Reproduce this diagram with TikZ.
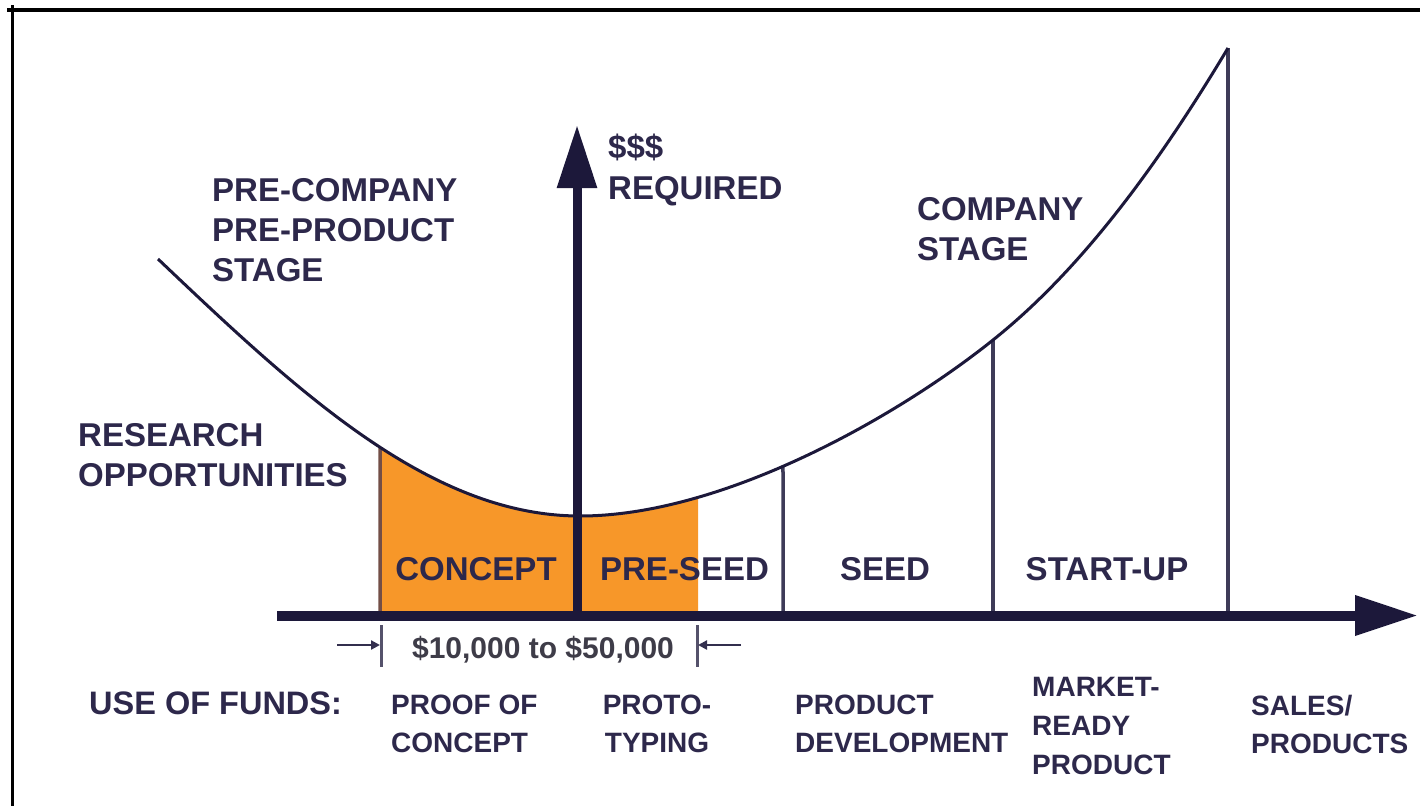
\documentclass[tikz,border=0pt]{standalone}
\usepackage{fontspec}
\setmainfont{Liberation Sans}
\usetikzlibrary{arrows.meta,intersections}
\definecolor{ink}{RGB}{28,24,58}
\definecolor{txt}{RGB}{45,40,75}
\definecolor{fillor}{RGB}{247,151,41}
\definecolor{edgebr}{RGB}{115,78,70}
\definecolor{dimtxt}{RGB}{62,60,72}
\begin{document}
\begin{tikzpicture}[x=1pt,y=-1pt,
  big/.style={font=\fontsize{33}{40}\selectfont\bfseries, text=txt, inner sep=0pt, align=left, anchor=west},
  stagelbl/.style={font=\fontsize{33}{40}\selectfont\bfseries, text=txt, inner sep=0pt, anchor=center},
  fundlbl/.style={font=\fontsize{28}{38}\selectfont\bfseries, text=txt, inner sep=0pt, align=left, anchor=west},
  curveline/.style={draw=ink, line width=3pt},
  divider/.style={draw=ink!85!white, line width=3.5pt},
  mainaxis/.style={draw=ink, line width=10pt, -{Triangle[length=63pt,width=38pt]}},
  vaxis/.style={draw=ink, line width=9pt, -{Triangle[length=63pt,width=38pt]}},
  dimline/.style={draw=ink!90!white, line width=2.5pt, -{Triangle[length=9pt,width=9pt]}},
  dimtick/.style={draw=ink!75!white, line width=3pt},
  frameline/.style={draw=black, line width=3.5pt}
]
\useasboundingbox (0,0) rectangle (1420,806);

% frame (top and left)
\coordinate (ftl) at (7,10);
\coordinate (ftr) at (1420,10);
\coordinate (fl1) at (12.3,5);
\coordinate (fl2) at (12.3,806);
\draw[frameline] (ftl) -- (ftr);
\draw[frameline] (fl1) -- (fl2);

% orange fill under the curve
\begin{scope}
  \clip (380,0) rectangle (698,615);
  \fill[fillor] (158,259) .. controls (298,392) and (430,516) .. (580,516)
     .. controls (720,516) and (893,420) .. (993,340)
     .. controls (1073,276) and (1148,181.6) .. (1228,48)
     -- (1228,615) -- (158,615) -- cycle;
\end{scope}

% the curve
\path[name path=curve] (158,259) .. controls (298,392) and (430,516) .. (580,516)
     .. controls (720,516) and (893,420) .. (993,340)
     .. controls (1073,276) and (1148,181.6) .. (1228,48);

% points on the curve
\path[name path=v380] (380,0) -- (380,615);
\path[name path=v783] (783,0) -- (783,615);
\path[name intersections={of=curve and v380, by={p380}}];
\path[name intersections={of=curve and v783, by={p783}}];
\coordinate (p993) at (993,340);
\coordinate (p1228) at (1228,48);
\coordinate (b380) at (380,615);
\coordinate (b783) at (783,615);
\coordinate (b993) at (993,615);
\coordinate (b1228) at (1228,615);

% dividers
\draw[edgebr, line width=3.5pt] (p380) -- (b380);
\draw[divider] (p783) -- (b783);
\draw[divider] (p993) -- (b993);
\draw[divider] (p1228) -- (b1228);

\draw[curveline] (158,259) .. controls (298,392) and (430,516) .. (580,516)
     .. controls (720,516) and (893,420) .. (993,340)
     .. controls (1073,276) and (1148,181.6) .. (1228,48);

% axes
\coordinate (hstart) at (277,615.5);
\coordinate (hend) at (1418,615.5);
\coordinate (vstart) at (577,615);
\coordinate (vend) at (577,125);
\draw[mainaxis] (hstart) -- (hend);
\draw[vaxis] (vstart) -- (vend);

% dimension marks
\coordinate (tl1) at (381,625);
\coordinate (tl2) at (381,667);
\coordinate (tr1) at (697,625);
\coordinate (tr2) at (697,667);
\coordinate (al) at (337,645);
\coordinate (alt) at (380,645);
\coordinate (ar) at (741,645);
\coordinate (art) at (698,645);
\draw[dimtick] (tl1) -- (tl2);
\draw[dimtick] (tr1) -- (tr2);
\draw[dimline] (al) -- (alt);
\draw[dimline] (ar) -- (art);
\node[font=\fontsize{30}{36}\selectfont\bfseries, text=dimtxt, inner sep=0pt] (range) at (543,650) {\$10,000 to \$50,000};

% labels
\node[big] (precompany) at (212,230) {PRE-COMPANY\\PRE-PRODUCT\\STAGE};
\node[big, font=\fontsize{33}{41}\selectfont\bfseries] (required) at (608,170) {\$\$\$\\REQUIRED};
\node[big] (company) at (917,229) {COMPANY\\STAGE};
\node[big] (research) at (78,455) {RESEARCH\\OPPORTUNITIES};

\node[stagelbl] (concept) at (476,569) {CONCEPT};
\node[stagelbl] (preseed) at (684.5,569) {PRE-SEED};
\node[stagelbl] (seed) at (885,569) {SEED};
\node[stagelbl] (startup) at (1107,569) {START-UP};

\node[big, font=\fontsize{32.5}{40}\selectfont\bfseries] (usefunds) at (89,703) {USE OF FUNDS:};
\node[fundlbl] (proof) at (391,724) {PROOF OF\\CONCEPT};
\node[fundlbl, align=center, anchor=center] (proto) at (657,724) {PROTO-\\TYPING};
\node[fundlbl] (proddev) at (795,724) {PRODUCT\\DEVELOPMENT};
\node[fundlbl, font=\fontsize{28}{39}\selectfont\bfseries] (market) at (1032,726) {MARKET-\\READY\\PRODUCT};
\node[fundlbl] (sales) at (1251,724) {SALES/\\PRODUCTS};
\end{tikzpicture}
\end{document}
